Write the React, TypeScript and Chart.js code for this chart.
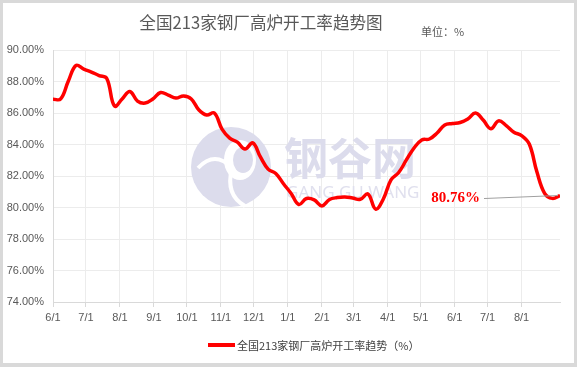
import React, { useEffect, useRef } from "react";
import { Chart, registerables } from "chart.js";

Chart.register(...registerables);

const titleText = "全国213家钢厂高炉开工率趋势图";
const unitText = "单位：%";
const seriesName = "全国213家钢厂高炉开工率趋势（%）";
const startDate = "2019-06-01";
const weekStepDays = 7;
const monthTickDates = [
  "2019-06-01", "2019-07-01", "2019-08-01", "2019-09-01", "2019-10-01",
  "2019-11-01", "2019-12-01", "2020-01-01", "2020-02-01", "2020-03-01",
  "2020-04-01", "2020-05-01", "2020-06-01", "2020-07-01", "2020-08-01",
];
const monthTickLabels = [
  "6/1", "7/1", "8/1", "9/1", "10/1", "11/1", "12/1", "1/1",
  "2/1", "3/1", "4/1", "5/1", "6/1", "7/1", "8/1",
];
const weeklyRate = [
  86.87, 86.89, 88.03, 89.02, 88.79, 88.6, 88.38, 88.19, 86.44, 86.89,
  87.37, 86.76, 86.63, 86.89, 87.3, 87.14, 86.95, 87.08, 86.89, 86.19,
  85.87, 86.0, 84.98, 84.41, 84.15, 83.71, 84.1, 83.21, 82.44, 82.16,
  81.51, 80.89, 80.19, 80.57, 80.48, 80.1, 80.51, 80.63, 80.67, 80.6,
  80.52, 80.86, 79.9, 80.54, 81.75, 82.22, 83.02, 83.78, 84.29, 84.35,
  84.73, 85.24, 85.33, 85.4, 85.62, 86.0, 85.55, 85.0, 85.5, 85.2,
  84.78, 84.57, 84.03, 82.25, 80.9, 80.58, 80.76,
];
const yMin = 74;
const yMax = 90;
const yStep = 2;

const dayOf = (s: string) => {
  const [y, m, d] = s.split("-").map(Number);
  const [y0, m0, d0] = startDate.split("-").map(Number);
  return Math.round((Date.UTC(y, m - 1, d) - Date.UTC(y0, m0 - 1, d0)) / 86400000);
};
const tickDays = monthTickDates.map(dayOf);
const points = weeklyRate.map((v, i) => ({ x: i * weekStepDays, y: v }));
const lastDay = (weeklyRate.length - 1) * weekStepDays;

const overlayPlugin = {
  id: "overlay",
  beforeDatasetsDraw(chart: any) {
    const ctx = chart.ctx;
    ctx.save();
    const wm = "#dcdcec";
    ctx.fillStyle = wm;
    ctx.beginPath();
    ctx.arc(231, 167, 40, 0, Math.PI * 2);
    ctx.fill();
    ctx.fillStyle = "#ffffff";
    ctx.beginPath();
    ctx.ellipse(240, 160, 16, 20, 0, 0, Math.PI * 2);
    ctx.fill();
    ctx.fillStyle = wm;
    ctx.beginPath();
    ctx.ellipse(243, 160, 10, 13, 0, 0, Math.PI * 2);
    ctx.fill();
    ctx.strokeStyle = "#ffffff";
    ctx.lineWidth = 4;
    ctx.beginPath();
    ctx.moveTo(198, 168);
    ctx.quadraticCurveTo(215, 150, 232, 168);
    ctx.quadraticCurveTo(225, 195, 245, 206);
    ctx.stroke();
    ctx.fillStyle = wm;
    ctx.textBaseline = "middle";
    ctx.textAlign = "left";
    ctx.font = "bold 44px 'Noto Sans CJK SC'";
    ctx.fillText("钢谷网", 284, 158);
    ctx.fillStyle = "#e0e0ee";
    ctx.font = "17px 'Noto Sans'";
    ctx.fillText("GANG GU WANG", 286, 193);
    ctx.restore();
  },
  afterDatasetsDraw(chart: any) {
    const ctx = chart.ctx;
    const xs = chart.scales.x;
    const ys = chart.scales.y;
    const last = points[points.length - 1];
    const px = xs.getPixelForValue(last.x);
    const py = ys.getPixelForValue(last.y);
    ctx.save();
    ctx.strokeStyle = "#a0a0a0";
    ctx.lineWidth = 1;
    ctx.beginPath();
    ctx.moveTo(px - 76, py + 3);
    ctx.lineTo(px - 2, py);
    ctx.stroke();
    ctx.fillStyle = "#ff0000";
    ctx.font = "bold 15px 'Liberation Serif'";
    ctx.textAlign = "right";
    ctx.textBaseline = "middle";
    ctx.fillText(last.y.toFixed(2) + "%", px - 80, py + 3);
    ctx.restore();
  },
};

export default function App() {
  const ref = useRef<HTMLCanvasElement | null>(null);
  useEffect(() => {
    if (!ref.current) return;
    const chart = new Chart(ref.current, {
      type: "line",
      data: {
        datasets: [
          {
            label: seriesName,
            data: points,
            borderColor: "#ff0000",
            backgroundColor: "#ff0000",
            borderWidth: 3.5,
            pointRadius: 0,
            tension: 0.4,
            fill: false,
          },
        ],
      },
      options: {
        animation: false,
        responsive: false,
        events: [],
        layout: { padding: { top: 50, right: 17, bottom: 35, left: 0 } },
        plugins: {
          legend: { display: false },
          title: { display: false },
          tooltip: { enabled: false },
        },
        scales: {
          x: {
            type: "linear",
            min: 0,
            max: lastDay,
            afterBuildTicks: (s: any) => {
              s.ticks = tickDays.map((v) => ({ value: v }));
            },
            afterFit: (s: any) => {
              s.height = 30;
            },
            ticks: {
              autoSkip: false,
              maxRotation: 0,
              padding: 4,
              color: "#595959",
              font: { size: 11, family: "'Liberation Sans'" },
              callback: (_v: any, i: number) => monthTickLabels[i],
            },
            grid: { color: "#ececec", tickLength: 5, tickColor: "#d9d9d9" },
            border: { color: "#d9d9d9" },
          },
          y: {
            min: yMin,
            max: yMax,
            afterFit: (s: any) => {
              s.width = 53;
            },
            ticks: {
              stepSize: yStep,
              padding: 9,
              color: "#595959",
              font: { size: 11, family: "'Liberation Sans'" },
              callback: (v: any) => Number(v).toFixed(2) + "%",
            },
            grid: { color: "#ececec", drawTicks: false },
            border: { color: "#d9d9d9" },
          },
        },
      },
      plugins: [overlayPlugin],
    });
    return () => chart.destroy();
  }, []);

  const txt = { position: "absolute" as const, whiteSpace: "nowrap" as const, fontFamily: "'Noto Sans CJK SC'" };
  return (
    <div style={{ position: "absolute", left: 0, top: 0, width: 577, height: 367, background: "#fff" }}>
      <canvas ref={ref} width={577} height={367} style={{ display: "block" }} />
      <div style={{ ...txt, left: 261, top: 14, transform: "translateX(-50%)", fontSize: 16.6, lineHeight: "17px", color: "#595959" }}>
        {titleText}
      </div>
      <div style={{ ...txt, left: 421, top: 25, fontSize: 11, lineHeight: "12px", color: "#595959" }}>{unitText}</div>
      <div style={{ position: "absolute", left: 208, top: 343, width: 27, height: 4, background: "#ff0000" }} />
      <div style={{ ...txt, left: 237, top: 339, fontSize: 11, lineHeight: "12px", color: "#404040" }}>{seriesName}</div>
      <div
        style={{
          position: "absolute", left: 0, top: 0, width: 577, height: 367, boxSizing: "border-box",
          borderStyle: "solid", borderColor: "#d9d9d9", borderWidth: "3px 3px 4px 3px", pointerEvents: "none",
        }}
      />
    </div>
  );
}
